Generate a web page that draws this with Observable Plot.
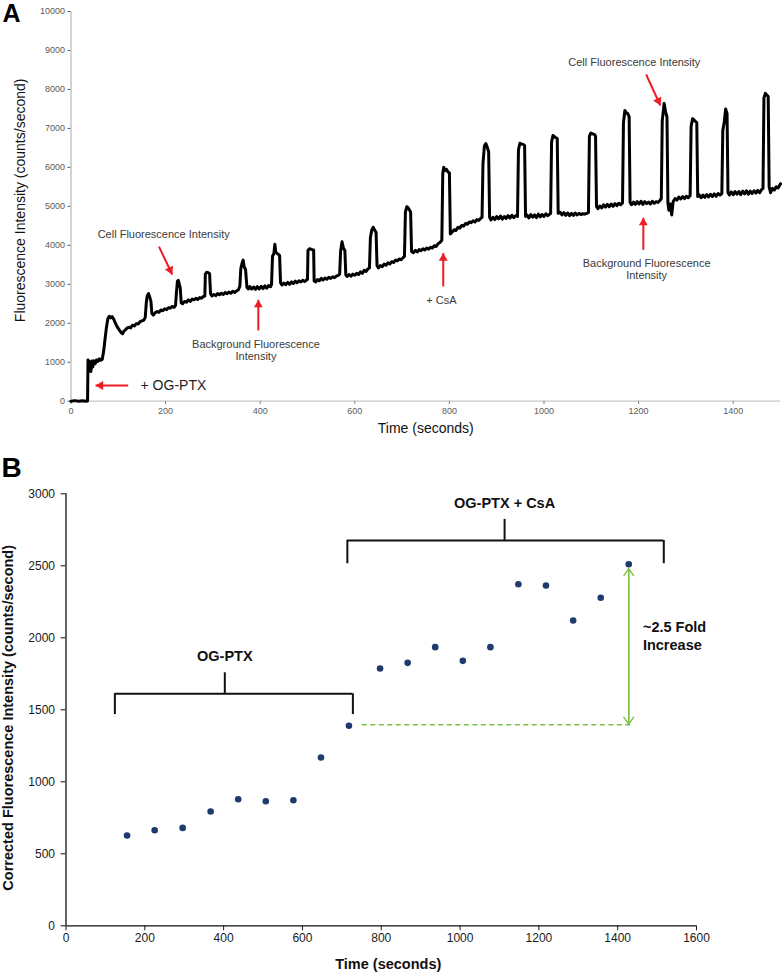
<!DOCTYPE html>
<html><head><meta charset="utf-8">
<script src="https://cdn.jsdelivr.net/npm/d3@7"></script>
<script src="https://cdn.jsdelivr.net/npm/@observablehq/plot@0.6"></script>
<style>
html,body{margin:0;padding:0;background:#fff;}
#chart{position:relative;width:782px;height:973px;font-family:"Liberation Sans",Arial,sans-serif;}
#chart svg{display:block;}
</style></head><body><div id="chart"></div>
<script>
// ---------- Panel A: raw fluorescence trace [time (s), counts/s] ----------
const trace = [[0,0],[8,15],[16,0],[24,12],[32,0],[35,5],[36,1060],[38,820],[40,1010],[42,760],[44,1030],[46,880],[48,1040],[51,960],[54,1060],[57,1020],[60,1090],[63,1050],[66,1070],[69,1280],[72,1600],[75,1900],[78,2120],[81,2180],[84,2140],[87,2170],[90,2110],[94,2000],[98,1900],[102,1830],[106,1760],[109,1730],[112,1800],[115,1830],[118,1870],[122,1900],[126,1880],[130,1950],[134,1930],[138,1990],[142,1980],[146,2040],[150,2060],[154,2080],[157,2150],[159,2500],[161,2700],[164,2760],[167,2650],[169,2560],[171,2250],[174,2210],[178,2270],[182,2300],[186,2280],[190,2340],[194,2320],[198,2370],[202,2350],[206,2400],[210,2390],[214,2430],[218,2410],[221,2460],[223,2800],[225,3080],[227,3100],[229,3000],[231,2900],[233,2520],[236,2500],[240,2560],[244,2540],[248,2600],[252,2560],[256,2620],[260,2600],[264,2640],[268,2610],[272,2660],[276,2640],[280,2690],[283,2700],[284,3260],[287,3310],[290,3300],[293,3270],[295,2760],[298,2700],[302,2740],[306,2710],[310,2760],[314,2730],[318,2770],[322,2740],[326,2790],[330,2760],[334,2800],[338,2770],[342,2820],[346,2790],[350,2830],[354,2860],[357,2950],[359,3400],[362,3560],[364,3620],[366,3450],[369,3380],[372,2920],[375,2880],[378,2940],[382,2880],[386,2930],[390,2870],[394,2940],[398,2880],[402,2950],[406,2890],[410,2960],[414,2900],[418,2970],[422,2940],[424,3000],[426,3720],[429,3790],[431,4030],[433,3820],[437,3780],[441,3740],[443,3040],[446,2980],[450,3030],[454,2990],[458,3050],[462,3000],[466,3060],[470,3020],[474,3080],[478,3040],[482,3090],[486,3060],[490,3100],[494,3070],[498,3110],[500,3130],[501,3870],[504,3910],[508,3900],[511,3880],[513,3880],[514,3090],[517,3060],[521,3120],[525,3090],[529,3150],[533,3110],[537,3160],[541,3130],[545,3180],[549,3150],[553,3190],[557,3170],[561,3210],[565,3230],[568,3260],[570,3850],[573,4090],[576,3920],[579,3870],[581,3240],[584,3200],[588,3250],[592,3210],[596,3260],[600,3230],[604,3280],[608,3250],[612,3320],[616,3280],[620,3360],[624,3330],[628,3400],[631,3420],[633,4200],[636,4400],[639,4460],[642,4390],[645,4330],[647,3480],[650,3420],[654,3480],[658,3450],[662,3520],[666,3490],[670,3550],[674,3520],[678,3580],[682,3560],[686,3620],[690,3600],[694,3650],[698,3630],[702,3680],[705,3720],[707,4850],[710,4990],[713,4960],[716,4900],[718,4850],[720,3840],[724,3810],[728,3870],[732,3830],[736,3890],[740,3860],[744,3910],[748,3880],[752,3930],[756,3900],[760,3950],[764,3930],[768,3990],[772,3970],[776,4040],[780,4070],[784,4130],[786,5850],[788,6000],[791,5920],[794,5950],[797,5880],[800,5860],[802,4290],[806,4340],[810,4400],[814,4380],[818,4460],[822,4440],[826,4510],[830,4490],[834,4560],[838,4540],[842,4600],[846,4580],[850,4630],[854,4600],[858,4660],[862,4640],[866,4690],[869,4720],[871,6100],[874,6550],[877,6610],[880,6520],[883,6400],[885,4720],[888,4650],[892,4720],[896,4660],[900,4740],[904,4680],[908,4750],[912,4670],[916,4740],[920,4690],[924,4760],[928,4700],[932,4770],[936,4710],[940,4760],[944,4740],[946,6450],[949,6620],[952,6600],[956,6590],[959,6560],[961,4740],[964,4780],[968,4700],[972,4790],[976,4720],[980,4780],[984,4710],[988,4800],[992,4730],[996,4790],[1000,4740],[1004,4810],[1008,4760],[1012,4800],[1014,4820],[1016,6650],[1019,6820],[1022,6790],[1025,6760],[1028,6740],[1030,4820],[1034,4850],[1038,4780],[1042,4840],[1046,4770],[1050,4830],[1054,4760],[1058,4820],[1062,4770],[1066,4830],[1070,4780],[1074,4820],[1078,4790],[1082,4810],[1086,4800],[1090,4820],[1094,4840],[1096,6800],[1099,6880],[1103,6860],[1107,6840],[1109,6800],[1111,5000],[1114,4940],[1118,5010],[1122,4960],[1126,5040],[1130,4980],[1134,5050],[1138,4990],[1142,5060],[1146,5000],[1150,5070],[1154,5020],[1158,5080],[1162,5040],[1166,5090],[1168,7150],[1171,7460],[1174,7400],[1177,7380],[1180,7300],[1182,5100],[1185,5040],[1189,5110],[1193,5050],[1197,5120],[1201,5060],[1205,5130],[1209,5050],[1213,5120],[1217,5070],[1221,5110],[1225,5060],[1229,5130],[1233,5080],[1237,5120],[1241,5100],[1245,5150],[1248,5200],[1250,7200],[1254,7640],[1257,7420],[1260,7300],[1262,5080],[1264,4900],[1267,5060],[1270,4780],[1273,5120],[1277,5200],[1281,5160],[1285,5240],[1289,5190],[1293,5250],[1297,5200],[1301,5260],[1305,5220],[1309,5280],[1311,7050],[1314,7250],[1317,7220],[1320,7180],[1323,7150],[1325,5250],[1328,5300],[1332,5220],[1336,5290],[1340,5230],[1344,5300],[1348,5240],[1352,5310],[1356,5250],[1360,5320],[1364,5260],[1368,5330],[1372,5290],[1376,5330],[1378,6950],[1381,7150],[1384,7500],[1387,7380],[1389,5350],[1392,5290],[1396,5370],[1400,5300],[1404,5380],[1408,5310],[1412,5380],[1416,5300],[1420,5390],[1424,5320],[1428,5400],[1432,5310],[1436,5390],[1440,5330],[1444,5400],[1448,5340],[1452,5410],[1456,5350],[1460,5430],[1463,5460],[1465,7780],[1468,7900],[1471,7860],[1474,7820],[1476,5500],[1479,5350],[1483,5460],[1487,5420],[1491,5500],[1495,5470],[1500,5580]];

const aTicksX = [0, 200, 400, 600, 800, 1000, 1200, 1400];
const aTicksY = [0, 1000, 2000, 3000, 4000, 5000, 6000, 7000, 8000, 9000, 10000];

// Panel A annotations (data coordinates)
const aNoteText = ["Cell Fluorescence Intensity", "Background Fluorescence\nIntensity", "+ CsA", "Background Fluorescence\nIntensity", "Cell Fluorescence Intensity"];
const aNoteTime = [196, 391, 783, 1217, 1191];
const aNoteCounts = [4296, 1304, 2587, 3387, 8700];
const aDrugText = ["+ OG-PTX"];
const aDrugTime = [147];
const aDrugCounts = [403];
const aArrowFromTime = [186, 121, 396, 787, 1210, 1216];
const aArrowFromCounts = [3968, 403, 1814, 2943, 3885, 8383];
const aArrowToTime = [214, 52, 396, 787, 1210, 1246];
const aArrowToCounts = [3250, 403, 2602, 3798, 4706, 7588];

// ---------- Panel B: corrected fluorescence ----------
const bTime = [155, 225, 296, 367, 437, 507, 577, 647, 718, 797, 867, 937, 1007, 1077, 1148, 1218, 1287, 1357, 1428];
const bCorrected = [627, 664, 680, 794, 879, 865, 872, 1169, 1389, 1787, 1826, 1935, 1840, 1935, 2372, 2363, 2120, 2278, 2511];
const bTicksX = [0, 200, 400, 600, 800, 1000, 1200, 1400, 1600];
const bTicksY = [0, 500, 1000, 1500, 2000, 2500, 3000];

const bracketLabel = ["OG-PTX", "OG-PTX + CsA"];
const bracketFrom = [124, 714];
const bracketTo = [728, 1517];
const bracketMid = [403, 1113];
const bracketLevel = [1611, 2676];
const bracketFoot = [1467, 2514];
const bracketTop = [1757, 2822];
const bracketLabelLevel = [1870, 2931];

const foldTime = [1428];
const foldLow = [1400];
const foldHigh = [2480];
const foldBaseFrom = [752];
const foldBaseTo = [1433];
const foldBaseLevel = [1396];
const foldText = ["~2.5 Fold\nIncrease"];
const foldTextTime = [1464];
const foldTextLevel = [2016];

// ---------- drawing ----------
const FONT = '"Liberation Sans", Arial, sans-serif';
const W = 782;
const RED = "#ee1c24";
const GREEN = "#7dbf45";
const chart = document.getElementById("chart");

// Panel A
const A = {h: 440, ml: 70.5, mr: 2, mt: 11, mb: 39.3, xMax: 1500, yMax: 10000};
const kxA = (W - A.ml - A.mr) / A.xMax;
const kyA = (A.h - A.mt - A.mb) / A.yMax;
const traceData = trace.map(([t, v]) => ({t, v}));
const notes = aNoteText.map((s, i) => ({s, t: aNoteTime[i], v: aNoteCounts[i]}));
const drug = aDrugText.map((s, i) => ({s, t: aDrugTime[i], v: aDrugCounts[i]}));
const arrows = aArrowFromTime.map((t1, i) => {
  const a = {t1, v1: aArrowFromCounts[i], t2: aArrowToTime[i], v2: aArrowToCounts[i]};
  const dx = (a.t2 - a.t1) * kxA, dy = -(a.v2 - a.v1) * kyA;
  const L = Math.hypot(dx, dy);
  a.ux = dx / L; a.uy = dy / L;
  a.rot = Math.atan2(a.ux, -a.uy) * 180 / Math.PI;
  return a;
});
const headMarks = arrows.map(a => Plot.dot([a], {
  x: "t2", y: "v2", symbol: "triangle", r: 3.3, fill: RED, stroke: null,
  rotate: a.rot, dx: -a.ux * 5, dy: -a.uy * 5
}));

const plotA = Plot.plot({
  width: W, height: A.h,
  marginLeft: A.ml, marginRight: A.mr, marginTop: A.mt, marginBottom: A.mb,
  style: {fontFamily: FONT, fontSize: "9px", color: "#5a5a5a", background: "white", overflow: "visible"},
  x: {domain: [0, A.xMax], ticks: aTicksX, tickSize: 3, tickPadding: 3, tickFormat: d => String(d), label: null},
  y: {domain: [0, A.yMax], ticks: aTicksY, tickSize: 3, tickPadding: 3, tickFormat: d => String(d), label: null},
  marks: [
    Plot.ruleX([0], {stroke: "#b5b5b5", strokeWidth: 1.2}),
    Plot.ruleY([0], {stroke: "#c8c8c8", strokeWidth: 1.2}),
    Plot.line(traceData, {x: "t", y: "v", stroke: "black", strokeWidth: 3, strokeLinejoin: "round"}),
    Plot.text(notes, {x: "t", y: "v", text: "s", fontSize: 11, fill: "#3a3a3a", lineHeight: 1.1, textAnchor: "middle", lineAnchor: "middle"}),
    Plot.text(drug, {x: "t", y: "v", text: "s", fontSize: 14, fill: "#222", textAnchor: "start", lineAnchor: "middle"}),
    Plot.link(arrows, {x1: "t1", y1: "v1", x2: "t2", y2: "v2", stroke: RED, strokeWidth: 2}),
    ...headMarks,
    Plot.text(["Fluorescence Intensity (counts/second)"], {frameAnchor: "left", dx: -50.5, dy: -6, rotate: -90, fontSize: 14, fill: "#111", textAnchor: "middle", lineAnchor: "middle"}),
    Plot.text(["Time (seconds)"], {frameAnchor: "bottom", dy: 27, fontSize: 14, fill: "#111", textAnchor: "middle", lineAnchor: "middle"}),
    Plot.text(["A"], {frameAnchor: "top-left", dx: -59.5, dy: 2.5, fontSize: 25, fontWeight: "bold", fill: "black", textAnchor: "middle", lineAnchor: "middle"})
  ]
});
chart.appendChild(plotA);

// Panel B
const B = {h: 533, ml: 65.5, mr: 86, mt: 53.3, mb: 47.7};
const bData = bTime.map((t, i) => ({t, v: bCorrected[i]}));
const brackets = bracketLabel.map((s, i) => ({s, from: bracketFrom[i], to: bracketTo[i], mid: bracketMid[i], level: bracketLevel[i], foot: bracketFoot[i], top: bracketTop[i], lab: bracketLabelLevel[i]}));
const fold = foldTime.map((t, i) => ({t, lo: foldLow[i], hi: foldHigh[i], bf: foldBaseFrom[i], bt: foldBaseTo[i], bl: foldBaseLevel[i], s: foldText[i], tx: foldTextTime[i], ty: foldTextLevel[i]}));

const plotB = Plot.plot({
  width: W, height: B.h,
  marginLeft: B.ml, marginRight: B.mr, marginTop: B.mt, marginBottom: B.mb,
  style: {fontFamily: FONT, fontSize: "12px", color: "#1a1a1a", background: "white", overflow: "visible"},
  x: {domain: [0, 1600], ticks: bTicksX, tickSize: 5, tickPadding: 3, tickFormat: d => String(d), label: null},
  y: {domain: [0, 3000], ticks: bTicksY, tickSize: 5, tickPadding: 6, tickFormat: d => String(d), label: null},
  marks: [
    Plot.ruleX([0], {stroke: "#111", strokeWidth: 1.3}),
    Plot.ruleY([0], {stroke: "#111", strokeWidth: 1.3}),
    // brackets
    Plot.ruleY(brackets, {y: "level", x1: "from", x2: "to", stroke: "#111", strokeWidth: 2}),
    Plot.ruleX(brackets, {x: "from", y1: "foot", y2: "level", stroke: "#111", strokeWidth: 2}),
    Plot.ruleX(brackets, {x: "to", y1: "foot", y2: "level", stroke: "#111", strokeWidth: 2}),
    Plot.ruleX(brackets, {x: "mid", y1: "level", y2: "top", stroke: "#111", strokeWidth: 2}),
    Plot.text(brackets, {x: "mid", y: "lab", text: "s", fontSize: 14.5, fontWeight: "bold", fill: "#111", lineAnchor: "middle"}),
    // fold change
    Plot.ruleY(fold, {y: "bl", x1: "bf", x2: "bt", stroke: GREEN, strokeWidth: 1.5, strokeDasharray: "5,3.5"}),
    Plot.arrow(fold, {x1: "t", y1: "lo", x2: "t", y2: "hi", stroke: GREEN, strokeWidth: 1.4, headLength: 9, headAngle: 70}),
    Plot.arrow(fold, {x1: "t", y1: "hi", x2: "t", y2: "lo", stroke: GREEN, strokeWidth: 1.4, headLength: 9, headAngle: 70}),
    Plot.text(fold, {x: "tx", y: "ty", text: "s", fontSize: 14.5, fontWeight: "bold", fill: "#111", textAnchor: "start", lineAnchor: "middle", lineHeight: 1.25}),
    Plot.dot(bData, {x: "t", y: "v", r: 3.3, fill: "#1f3b6e", stroke: null}),
    Plot.text(["Corrected Fluorescence Intensity (counts/second)"], {frameAnchor: "left", dx: -57.5, dy: 8, rotate: -90, fontSize: 14.5, fontWeight: "bold", fill: "#111", textAnchor: "middle", lineAnchor: "middle"}),
    Plot.text(["Time (seconds)"], {frameAnchor: "bottom", dx: 7, dy: 39, fontSize: 14.5, fontWeight: "bold", fill: "#111", textAnchor: "middle", lineAnchor: "middle"}),
    Plot.text(["B"], {frameAnchor: "top-left", dx: -54.5, dy: -25.8, fontSize: 28, fontWeight: "bold", fill: "black", textAnchor: "middle", lineAnchor: "middle"})
  ]
});
chart.appendChild(plotB);
</script>
</body></html>
